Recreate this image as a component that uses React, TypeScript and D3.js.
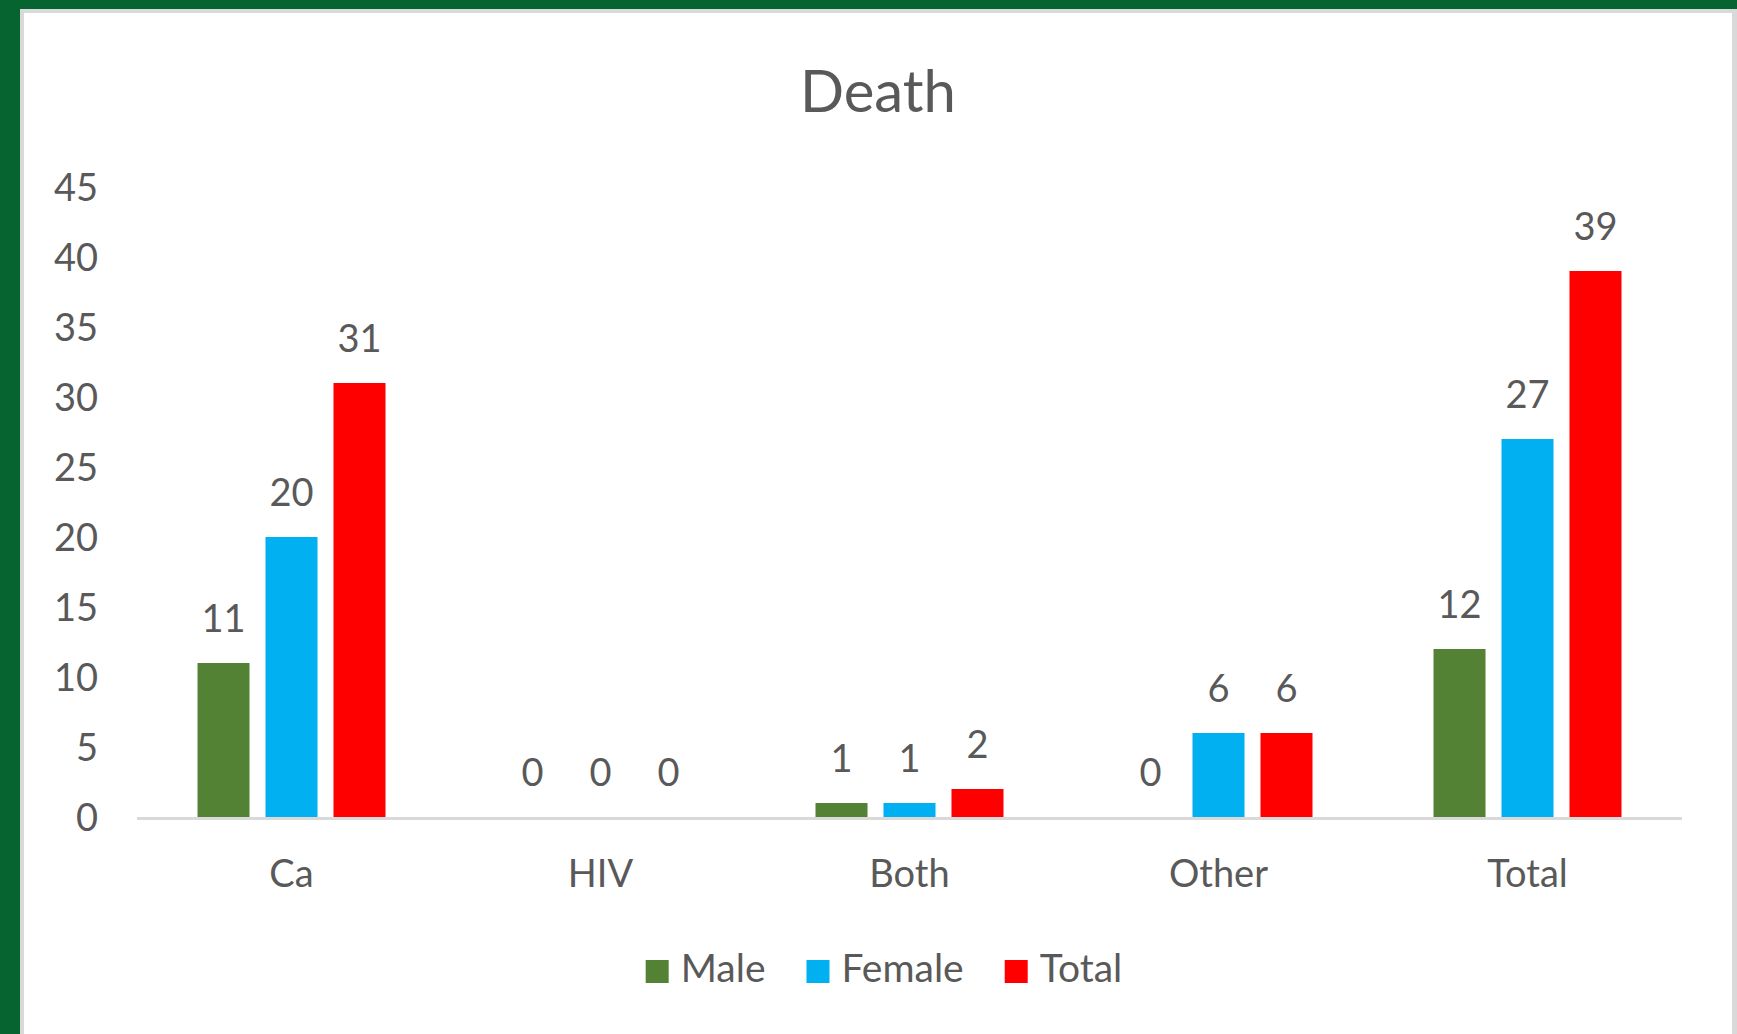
import React, { useRef, useEffect } from 'react';
import * as d3 from 'd3';

const categories = ['Ca', 'HIV', 'Both', 'Other', 'Total'];
const seriesNames = ['Male', 'Female', 'Total'];
const male = [11, 0, 1, 0, 12];
const female = [20, 0, 1, 6, 27];
const total = [31, 0, 2, 6, 39];
const yTicks = [0, 5, 10, 15, 20, 25, 30, 35, 40, 45];
const colors = ['#548235', '#00B0F0', '#FF0000'];

const W = 1737;
const H = 1034;
const FONT = 'Lato, Carlito, Calibri, sans-serif';
const TEXT = '#595959';

function App() {
  const svgRef = useRef(null);

  useEffect(() => {
    const svg = d3.select(svgRef.current);
    svg.selectAll('*').remove();

    // frame: green window edge, grey border, white chart area
    svg.append('rect').attr('width', W).attr('height', H).attr('fill', '#05642f');
    svg.append('rect').attr('x', 20).attr('y', 9).attr('width', W - 20).attr('height', H).attr('fill', '#d9d9d9');
    svg.append('rect').attr('x', 24).attr('y', 13).attr('width', 1732 - 24).attr('height', H).attr('fill', '#ffffff');

    const x0 = d3.scaleBand().domain(categories).range([137, 1682]);
    const x1 = d3.scaleBand().domain(seriesNames).range([-94, 94]).paddingInner(0.235);
    const y = d3.scaleLinear().domain([0, 45]).range([817, 187]);

    const values = [male, female, total];

    svg.append('text')
      .attr('x', 878).attr('y', 112)
      .attr('text-anchor', 'middle')
      .style('font', `58px ${FONT}`)
      .attr('fill', TEXT)
      .text('Death');

    // y labels
    svg.append('g').selectAll('text')
      .data(yTicks)
      .join('text')
        .attr('x', 98)
        .attr('y', d => y(d))
        .attr('dy', '0.36em')
        .attr('text-anchor', 'end')
        .style('font', `38px ${FONT}`)
        .attr('fill', TEXT)
        .text(d => d);

    // bars
    seriesNames.forEach((s, si) => {
      const g = svg.append('g');
      g.selectAll('rect')
        .data(categories)
        .join('rect')
          .attr('x', c => x0(c) + x0.bandwidth() / 2 + x1(s))
          .attr('y', (c, i) => y(values[si][i]))
          .attr('width', x1.bandwidth())
          .attr('height', (c, i) => y(0) - y(values[si][i]))
          .attr('fill', colors[si]);
      g.selectAll('text')
        .data(categories)
        .join('text')
          .attr('x', c => x0(c) + x0.bandwidth() / 2 + x1(s) + x1.bandwidth() / 2)
          .attr('y', (c, i) => y(values[si][i]) - 31)
          .attr('text-anchor', 'middle')
          .style('font', `38px ${FONT}`)
          .attr('fill', TEXT)
          .text((c, i) => values[si][i]);
    });

    // axis line
    svg.append('line')
      .attr('x1', 137).attr('x2', 1682)
      .attr('y1', 818.5).attr('y2', 818.5)
      .attr('stroke', '#d9d9d9').attr('stroke-width', 3);

    // category labels
    svg.append('g').selectAll('text')
      .data(categories)
      .join('text')
        .attr('x', c => x0(c) + x0.bandwidth() / 2)
        .attr('y', 887)
        .attr('text-anchor', 'middle')
        .style('font', `38px ${FONT}`)
        .attr('fill', TEXT)
        .text(c => c);

    // legend
    const legend = svg.append('g');
    let cx = 0;
    seriesNames.forEach((s, i) => {
      const item = legend.append('g');
      item.append('rect').attr('x', 0).attr('y', 960).attr('width', 23).attr('height', 23).attr('fill', colors[i]);
      const t = item.append('text')
        .attr('x', 35).attr('y', 982)
        .style('font', `39px ${FONT}`)
        .attr('fill', TEXT)
        .text(s);
      const w = 35 + t.node().getComputedTextLength();
      item.attr('transform', `translate(${cx},0)`);
      cx += w + 41;
    });
    const legendW = cx - 41;
    legend.attr('transform', `translate(${884 - legendW / 2},0)`);
  }, []);

  return (
    <svg
      ref={svgRef}
      width={W}
      height={H}
      style={{ position: 'absolute', left: 0, top: 0, display: 'block' }}
    />
  );
}

export default App;
